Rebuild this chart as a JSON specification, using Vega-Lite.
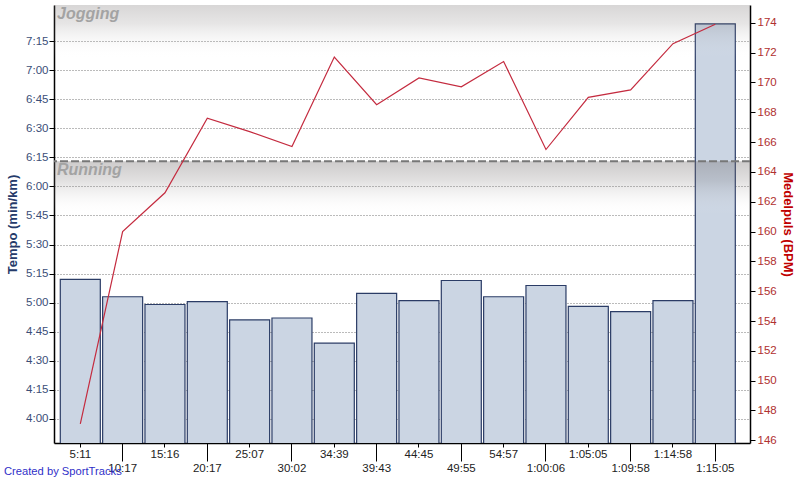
{
  "$schema": "https://vega.github.io/schema/vega-lite/v6.json",
  "width": 696,
  "height": 438,
  "autosize": {"type": "none"},
  "padding": {"left": 54, "top": 5, "right": 50, "bottom": 37},
  "background": "white",
  "config": {
    "font": "Liberation Sans",
    "view": {"stroke": null}
  },
  "title": {
    "text": "Created by SportTracks",
    "orient": "bottom",
    "anchor": "start",
    "frame": "group",
    "font": "Liberation Sans",
    "fontSize": 11.2,
    "fontWeight": "normal",
    "color": "#3030c8",
    "offset": -8,
    "dx": -50
  },
  "datasets": {
    "splits": [
      {"split": "5:11", "pace_s": 312, "hr": 147.1},
      {"split": "10:17", "pace_s": 303, "hr": 160.0},
      {"split": "15:16", "pace_s": 299, "hr": 162.6},
      {"split": "20:17", "pace_s": 300.5, "hr": 167.6},
      {"split": "25:07", "pace_s": 291, "hr": 166.7},
      {"split": "30:02", "pace_s": 292, "hr": 165.7},
      {"split": "34:39", "pace_s": 279, "hr": 171.7},
      {"split": "39:43", "pace_s": 304.7, "hr": 168.5},
      {"split": "44:45", "pace_s": 301, "hr": 170.3},
      {"split": "49:55", "pace_s": 311.4, "hr": 169.7},
      {"split": "54:57", "pace_s": 303, "hr": 171.4},
      {"split": "1:00:06", "pace_s": 308.8, "hr": 165.5},
      {"split": "1:05:05", "pace_s": 298, "hr": 169.0},
      {"split": "1:09:58", "pace_s": 295.3, "hr": 169.5},
      {"split": "1:14:58", "pace_s": 301, "hr": 172.6},
      {"split": "1:15:05", "pace_s": 444, "hr": 173.9}
    ],
    "zones": [
      {"zone": "Jogging", "from": 373, "to": 453.8},
      {"zone": "Running", "from": 227.4, "to": 373}
    ]
  },
  "layer": [
    {
      "data": {"name": "splits"},
      "mark": {"type": "bar", "fill": "#cbd5e3", "stroke": "#2b3c66", "strokeWidth": 1.2, "clip": true},
      "encoding": {
        "x": {
          "field": "split",
          "type": "ordinal",
          "sort": null,
          "scale": {"paddingInner": 0.055, "paddingOuter": 0.248, "align": 0.3},
          "axis": {
            "title": null,
            "labelAngle": 0,
            "labelOverlap": false,
            "labelFont": "Liberation Sans",
            "labelFontSize": 11.5,
            "labelColor": "#222222",
            "domainColor": "#000000",
            "domainWidth": 1.5,
            "tickColor": "#000000",
            "tickWidth": 1,
            "tickSize": {"condition": {"test": "round(datum.index*15)%2==1", "value": 18}, "value": 4},
            "labelPadding": 1
          }
        },
        "y": {
          "field": "pace_s",
          "type": "quantitative",
          "scale": {"domain": [227.4, 453.8], "nice": false, "zero": false},
          "axis": {
            "orient": "left",
            "title": "Tempo (min/km)",
            "titleFont": "Liberation Sans",
            "titleFontSize": 13,
            "titleFontWeight": "bold",
            "titleColor": "#253a6a",
            "titlePadding": 6,
            "values": [240, 255, 270, 285, 300, 315, 330, 345, 360, 375, 390, 405, 420, 435],
            "labelExpr": "floor(datum.value/60) + ':' + (datum.value%60 < 10 ? '0' : '') + (datum.value%60)",
            "labelFont": "Liberation Sans",
            "labelFontSize": 11.5,
            "labelColor": "#3b4e78",
            "labelPadding": 1,
            "tickSize": 5,
            "tickColor": "#000000",
            "domainColor": "#000000",
            "domainWidth": 1.5,
            "grid": true,
            "gridColor": "#777777",
            "gridDash": [1, 2],
            "gridWidth": 1
          }
        }
      }
    },
    {
      "data": {"name": "zones"},
      "transform": [{"filter": "datum.zone == 'Jogging'"}],
      "mark": {
        "type": "rect",
        "fill": {
          "gradient": "linear", "x1": 0, "y1": 0, "x2": 0, "y2": 1,
          "stops": [
            {"offset": 0, "color": "rgba(110,104,104,0.27)"},
            {"offset": 0.12, "color": "rgba(110,104,104,0.17)"},
            {"offset": 0.34, "color": "rgba(255,255,255,0)"},
            {"offset": 1, "color": "rgba(255,255,255,0)"}
          ]
        }
      },
      "encoding": {
        "x": {"value": 0},
        "x2": {"value": 696},
        "y": {"field": "to", "type": "quantitative", "scale": {"domain": [227.4, 453.8], "nice": false, "zero": false}, "axis": null},
        "y2": {"field": "from"}
      }
    },
    {
      "data": {"name": "zones"},
      "transform": [{"filter": "datum.zone == 'Running'"}],
      "mark": {
        "type": "rect",
        "fill": {
          "gradient": "linear", "x1": 0, "y1": 0, "x2": 0, "y2": 1,
          "stops": [
            {"offset": 0, "color": "rgba(110,104,104,0.34)"},
            {"offset": 0.07, "color": "rgba(110,104,104,0.2)"},
            {"offset": 0.19, "color": "rgba(255,255,255,0)"},
            {"offset": 1, "color": "rgba(255,255,255,0)"}
          ]
        }
      },
      "encoding": {
        "x": {"value": 0},
        "x2": {"value": 696},
        "y": {"field": "to", "type": "quantitative", "scale": {"domain": [227.4, 453.8], "nice": false, "zero": false}, "axis": null},
        "y2": {"field": "from"}
      }
    },
    {
      "data": {"name": "zones"},
      "transform": [{"filter": "datum.zone == 'Running'"}],
      "mark": {"type": "rule", "color": "#777777", "strokeWidth": 2, "strokeDash": [8, 3]},
      "encoding": {
        "y": {"field": "to", "type": "quantitative", "scale": {"domain": [227.4, 453.8], "nice": false, "zero": false}, "axis": null}
      }
    },
    {
      "data": {"name": "zones"},
      "mark": {
        "type": "text",
        "align": "left",
        "baseline": "top",
        "dx": 3,
        "dy": 1,
        "font": "Liberation Sans",
        "fontSize": 16,
        "fontWeight": "bold",
        "fontStyle": "italic",
        "color": "#a3a3a3"
      },
      "encoding": {
        "x": {"value": 0},
        "y": {"field": "to", "type": "quantitative", "scale": {"domain": [227.4, 453.8], "nice": false, "zero": false}, "axis": null},
        "text": {"field": "zone"}
      }
    },
    {
      "data": {"name": "splits"},
      "mark": {"type": "line", "color": "#c42b3f", "strokeWidth": 1.2},
      "encoding": {
        "x": {"field": "split", "type": "ordinal", "sort": null},
        "y": {
          "field": "hr",
          "type": "quantitative",
          "scale": {"domain": [145.82, 175.19], "nice": false, "zero": false},
          "axis": {
            "orient": "right",
            "title": "Medelpuls (BPM)",
            "titleFont": "Liberation Sans",
            "titleFontSize": 13,
            "titleFontWeight": "bold",
            "titleColor": "#c00000",
            "titlePadding": 4,
            "values": [146, 148, 150, 152, 154, 156, 158, 160, 162, 164, 166, 168, 170, 172, 174],
            "labelFont": "Liberation Sans",
            "labelFontSize": 11.5,
            "labelColor": "#b03030",
            "labelPadding": 2,
            "tickSize": 5,
            "tickColor": "#000000",
            "domainColor": "#000000",
            "domainWidth": 1.5,
            "grid": false
          }
        }
      }
    }
  ],
  "resolve": {"scale": {"y": "independent"}}
}
